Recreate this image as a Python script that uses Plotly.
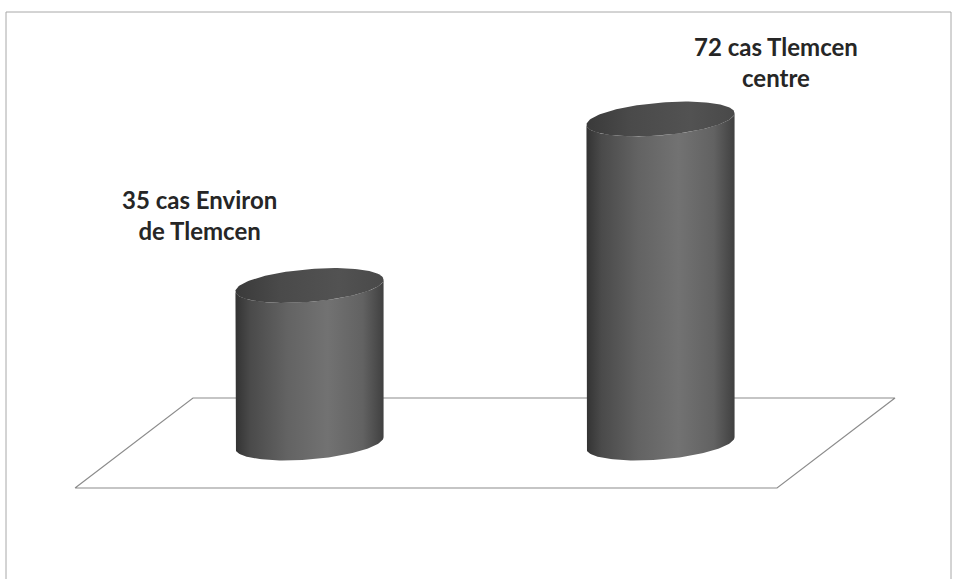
import numpy as np
import plotly.graph_objects as go

# Data
categories = ["Environ de Tlemcen", "Tlemcen centre"]
cases = [35, 72]
label_lines = [["35 cas Environ", "de Tlemcen"], ["72 cas Tlemcen", "centre"]]

# Geometry of the pseudo-3D cylinders (in axis units)
RX = 0.211          # horizontal radius, category units
RY = 3.65           # vertical radius of the ellipses, value units
TILT = 1.3          # slight tilt of the ellipses, value units at the rim
DEPTH_X = 0.168     # floor depth offset along x
DEPTH_Y = 10.0      # floor depth offset along y

# Label placement relative to each cylinder top (pixels)
label_shift = [(-110, 70), (115, 57)]

X_RANGE = [-0.3818, 2.339]
Y_RANGE = [-30.22, 98.44]

fig = go.Figure()

# Floor parallelogram
n = len(categories)
floor_x = [0 - DEPTH_X, n - DEPTH_X, n + DEPTH_X, 0 + DEPTH_X, 0 - DEPTH_X]
floor_y = [-DEPTH_Y, -DEPTH_Y, DEPTH_Y, DEPTH_Y, -DEPTH_Y]
fig.add_trace(go.Scatter(x=floor_x, y=floor_y, mode="lines",
                         line=dict(color="#8c8c8c", width=1.2),
                         hoverinfo="skip", showlegend=False))


def ellipse(cx, cy, t):
    return cx + RX * np.cos(t), cy + RY * np.sin(t) + TILT * np.cos(t)


for i, (cat, v) in enumerate(zip(categories, cases)):
    cx = i + 0.5
    front = np.linspace(np.pi, 2 * np.pi, 80)
    bx, by = ellipse(cx, 0.0, front)
    tx, ty = ellipse(cx, v, front[::-1])
    body_x = np.concatenate([[cx - RX], bx, [cx + RX], tx])
    body_y = np.concatenate([[v - TILT], by, [v + TILT], ty])
    fig.add_trace(go.Scatter(
        x=body_x, y=body_y, mode="lines", fill="toself",
        line=dict(width=0, color="rgba(0,0,0,0)"),
        fillgradient=dict(type="horizontal", colorscale=[
            [0.0, "#333333"], [0.1, "#4a4a4a"], [0.35, "#636363"],
            [0.62, "#727272"], [0.86, "#626262"], [1.0, "#404040"]]),
        name=cat, hoverinfo="name", showlegend=False))

    full = np.linspace(0, 2 * np.pi, 160)
    ex, ey = ellipse(cx, v, full)
    fig.add_trace(go.Scatter(
        x=ex, y=ey, mode="lines", fill="toself",
        line=dict(width=0, color="rgba(0,0,0,0)"),
        fillgradient=dict(type="horizontal", colorscale=[
            [0.0, "#3a3a3a"], [0.3, "#4a4a4a"], [0.7, "#525252"], [1.0, "#494949"]]),
        hoverinfo="skip", showlegend=False))

    dx, dy = label_shift[i]
    fig.add_annotation(x=cx, y=v, text="<br>".join(label_lines[i]),
                       showarrow=False, xshift=dx, yshift=dy,
                       xanchor="center", yanchor="middle", align="center",
                       font=dict(family="Lato", size=24, color="#262626",
                                 weight="bold"))

# Chart frame
fig.add_shape(type="rect", xref="paper", yref="paper",
              x0=6 / 955, x1=951 / 955, y0=-0.05, y1=1 - 12 / 579,
              line=dict(color="#a8a8a8", width=1), fillcolor="rgba(0,0,0,0)")

fig.update_xaxes(range=X_RANGE, visible=False, fixedrange=True)
fig.update_yaxes(range=Y_RANGE, visible=False, fixedrange=True)
fig.update_layout(width=955, height=579, margin=dict(l=0, r=0, t=0, b=0),
                  paper_bgcolor="white", plot_bgcolor="white")

fig.write_html("out.html")
